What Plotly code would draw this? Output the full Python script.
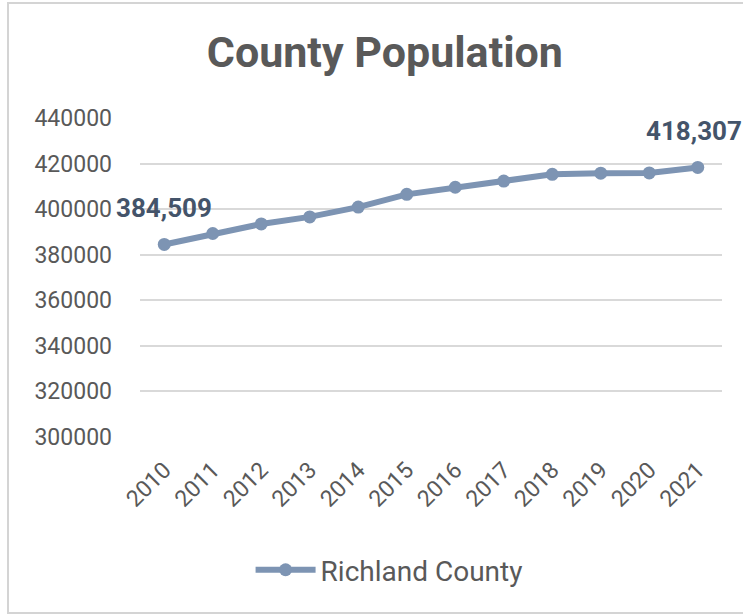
import plotly.graph_objects as go

years = ["2010", "2011", "2012", "2013", "2014", "2015", "2016", "2017", "2018", "2019", "2020", "2021"]
population = [384509, 389300, 393500, 396600, 400900, 406500, 409600, 412300, 415300, 415800, 415900, 418307]
series_name = "Richland County"
y_ticks = [300000, 320000, 340000, 360000, 380000, 400000, 420000, 440000]

line_color = "#7d94b3"
text_gray = "#595959"
label_color = "#44546a"

fig = go.Figure()
fig.add_trace(go.Scatter(
    x=years, y=population, mode="lines+markers", name=series_name,
    line=dict(color=line_color, width=6),
    marker=dict(color=line_color, size=13),
))

for i, dx in ((0, 0), (len(years) - 1, -4)):
    fig.add_annotation(
        x=i, y=population[i], text=f"<b>{population[i]:,}</b>",
        showarrow=False, yshift=36, xshift=dx,
        font=dict(family="Roboto", size=26, color=label_color),
    )

fig.add_shape(type="rect", xref="paper", yref="paper",
              x0=-0.2268, x1=1.05, y0=-0.5517, y1=1.3605,
              line=dict(color="#d4d4d4", width=2), fillcolor="rgba(0,0,0,0)")

fig.update_layout(
    width=743, height=616,
    margin=dict(l=140, r=21, t=118, b=179),
    paper_bgcolor="white", plot_bgcolor="white",
    title=dict(text="<b>County Population</b>", x=0.518, xanchor="center",
               y=0.915, yanchor="middle",
               font=dict(family="Roboto", size=43, color=text_gray)),
    xaxis=dict(
        type="category", range=[-0.5, 11.5], showgrid=False, zeroline=False,
        showline=False, tickangle=-45, ticks="", ticklabelstandoff=14,
        tickfont=dict(family="Roboto", size=23, color=text_gray),
    ),
    yaxis=dict(
        range=[300000, 440000], tickvals=y_ticks, ticktext=[str(v) for v in y_ticks],
        showgrid=True, gridcolor="#d9d9d9", gridwidth=2, zeroline=False,
        showline=False, ticks="", ticklabelstandoff=27,
        tickfont=dict(family="Roboto", size=23, color=text_gray),
    ),
    showlegend=True,
    legend=dict(orientation="h", x=0.19, xanchor="left", y=-0.417, yanchor="middle",
                font=dict(family="Roboto", size=28, color=text_gray), itemwidth=60),
)

fig.write_html("out.html")
